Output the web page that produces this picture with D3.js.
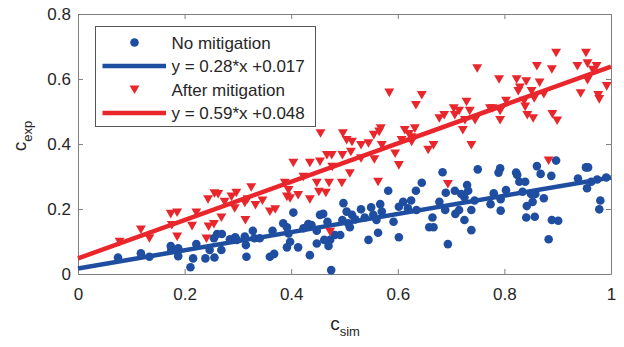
<!DOCTYPE html>
<html>
  <head>
    <title>c_exp vs c_sim</title>
    <script src="https://cdn.jsdelivr.net/npm/d3@7"></script>
    <style>
      body { margin: 0; background: #ffffff; }
      text { font-family: "Liberation Sans", Arial, sans-serif; fill: #262626; }
    </style>
  </head>
  <body>
    <svg width="624" height="347" id="mainsvg"></svg>
    <script>
      // scatter points: [c_sim, c_exp]
      const noMitigation = [
        [0.075,0.051],[0.118,0.064],[0.134,0.053],[0.174,0.086],[0.175,0.074],[0.188,0.079],[0.188,0.055],
        [0.211,0.021],[0.216,0.048],[0.222,0.092],[0.239,0.048],[0.247,0.074],[0.256,0.051],[0.255,0.110],
        [0.261,0.123],[0.270,0.123],[0.269,0.074],[0.285,0.107],[0.295,0.113],[0.298,0.105],[0.316,0.053],
        [0.315,0.089],[0.313,0.115],[0.328,0.133],[0.331,0.110],
        [0.341,0.110],[0.360,0.053],[0.368,0.062],[0.365,0.133],[0.385,0.156],[0.392,0.144],[0.395,0.125],
        [0.398,0.099],[0.392,0.082],[0.404,0.189],[0.413,0.082],[0.423,0.141],[0.432,0.154],[0.435,0.058],
        [0.438,0.151],[0.448,0.094],[0.448,0.133],[0.454,0.182],[0.460,0.185],[0.462,0.105],[0.468,0.161],
        [0.470,0.086],[0.473,0.105],[0.475,0.012],[0.482,0.120],[0.492,0.120],[0.496,0.166],[0.498,0.218],
        [0.504,0.192],[0.507,0.156],[0.510,0.144],[0.514,0.182],[0.520,0.168],[0.531,0.199],[0.538,0.174],
        [0.545,0.105],[0.550,0.205],[0.554,0.182],[0.560,0.166],[0.563,0.127],[0.567,0.215],[0.570,0.192],
        [0.582,0.256],[0.592,0.161],[0.602,0.113],[0.602,0.207],[0.610,0.222],[0.619,0.202],[0.625,0.226],
        [0.634,0.256],[0.635,0.197],[0.645,0.281],[0.659,0.144],[0.665,0.174],
        [0.667,0.144],[0.678,0.222],[0.684,0.313],[0.689,0.197],[0.690,0.250],[0.694,0.092],[0.707,0.256],
        [0.708,0.185],[0.715,0.197],[0.719,0.246],[0.725,0.236],[0.725,0.166],[0.730,0.274],[0.732,0.256],
        [0.738,0.197],[0.738,0.135],[0.744,0.226],[0.750,0.322],[0.774,0.215],[0.780,0.248],[0.789,0.312],
        [0.792,0.325],[0.793,0.230],[0.793,0.195],[0.803,0.258],[0.822,0.312],[0.824,0.305],[0.828,0.284],
        [0.834,0.253],[0.839,0.284],[0.841,0.174],[0.842,0.209],[0.850,0.246],[0.853,0.222],[0.857,0.176],
        [0.858,0.246],[0.861,0.332],[0.868,0.308],[0.874,0.233],[0.883,0.107],[0.888,0.302],[0.889,0.166],
        [0.897,0.349],[0.901,0.164],[0.938,0.294],[0.953,0.328],[0.957,0.328],[0.955,0.264],[0.963,0.284],
        [0.974,0.291],[0.980,0.226],[0.978,0.199],[0.991,0.297]
      ];
      const afterMitigation = [
        [0.078,0.099],[0.118,0.137],[0.134,0.110],[0.174,0.185],[0.176,0.151],[0.186,0.189],[0.186,0.115],
        [0.214,0.148],[0.222,0.189],[0.244,0.230],[0.245,0.146],[0.241,0.109],[0.256,0.248],[0.255,0.154],
        [0.263,0.246],[0.269,0.174],[0.275,0.222],[0.288,0.238],[0.294,0.202],[0.297,0.250],[0.313,0.219],
        [0.314,0.166],[0.325,0.267],[0.318,0.230],[0.333,0.212],
        [0.346,0.226],[0.360,0.192],[0.370,0.199],[0.388,0.281],[0.395,0.258],[0.392,0.238],[0.398,0.233],
        [0.404,0.342],[0.413,0.243],[0.423,0.299],[0.435,0.342],[0.435,0.230],[0.448,0.281],[0.452,0.253],
        [0.454,0.346],[0.465,0.250],[0.467,0.366],[0.471,0.281],[0.476,0.366],[0.473,0.130],[0.477,0.330],
        [0.495,0.281],[0.496,0.366],[0.510,0.310],[0.512,0.376],[0.514,0.407],[0.531,0.397],[0.531,0.356],
        [0.545,0.402],[0.556,0.353],[0.563,0.284],[0.570,0.397],[0.595,0.371],[0.602,0.335],[0.626,0.407],
        [0.657,0.382],
        [0.667,0.397],[0.694,0.277],[0.738,0.397],[0.883,0.349],
        [0.455,0.433],[0.497,0.433],[0.504,0.412],[0.555,0.428],[0.565,0.438],[0.568,0.448],[0.584,0.558],
        [0.607,0.412],[0.613,0.443],[0.621,0.431],[0.626,0.421],[0.632,0.448],[0.634,0.520],[0.645,0.551],
        [0.678,0.479],[0.687,0.489],[0.705,0.510],[0.707,0.489],[0.715,0.502],[0.729,0.530],[0.722,0.443],
        [0.726,0.474],[0.735,0.502],[0.745,0.474],[0.749,0.633],[0.773,0.510],[0.778,0.510],[0.790,0.599],
        [0.792,0.502],[0.792,0.474],[0.803,0.533],[0.823,0.599],[0.826,0.563],[0.829,0.574],[0.837,0.533],
        [0.841,0.593],[0.839,0.515],[0.843,0.489],[0.854,0.479],[0.851,0.563],[0.861,0.640],[0.856,0.541],
        [0.866,0.589],[0.874,0.554],[0.889,0.630],[0.890,0.492],[0.899,0.472],[0.897,0.681],[0.937,0.640],
        [0.943,0.556],[0.953,0.681],[0.956,0.648],[0.956,0.597],[0.966,0.628],[0.973,0.640],[0.976,0.551],
        [0.978,0.538],[0.992,0.578]
      ];
      // fitted lines: [slope, intercept]
      const fitNo = [0.28, 0.017];
      const fitAfter = [0.59, 0.048];
      const xTicks = [0, 0.2, 0.4, 0.6, 0.8, 1];
      const yTicks = [0, 0.2, 0.4, 0.6, 0.8];
      const legendLabels = ["No mitigation", "y = 0.28*x +0.017", "After mitigation", "y = 0.59*x +0.048"];

      const blue = "#1f4ea1";
      const red = "#e8262b";

      const svg = d3.select("#mainsvg");
      const margin = { top: 14, right: 13, bottom: 73, left: 78 };
      const innerWidth = 624 - margin.left - margin.right;
      const innerHeight = 347 - margin.top - margin.bottom;
      const g = svg.append("g").attr("transform", `translate(${margin.left}, ${margin.top})`);

      const xScale = d3.scaleLinear().domain([0, 1]).range([0, innerWidth]);
      const yScale = d3.scaleLinear().domain([0, 0.8]).range([innerHeight, 0]);
      const fmt = (d) => String(d);

      // axes, MATLAB style box with inward ticks
      const styleAxis = (sel) => {
        sel.selectAll("path").attr("stroke", "#808080");
        sel.selectAll("line").attr("stroke", "#808080");
        sel.selectAll("text").attr("font-size", 17).attr("fill", "#262626")
          .attr("font-family", "Liberation Sans, Arial, sans-serif");
      };
      g.append("g").attr("transform", `translate(0, ${innerHeight})`)
        .call(d3.axisBottom(xScale).tickValues(xTicks).tickFormat(fmt).tickSizeInner(-5).tickSizeOuter(0).tickPadding(14))
        .call(styleAxis);
      g.append("g")
        .call(d3.axisLeft(yScale).tickValues(yTicks).tickFormat(fmt).tickSizeInner(-5).tickSizeOuter(0).tickPadding(7))
        .call(styleAxis);
      g.append("g")
        .call(d3.axisTop(xScale).tickValues(xTicks).tickFormat("").tickSizeInner(-5).tickSizeOuter(0))
        .call(styleAxis);
      g.append("g").attr("transform", `translate(${innerWidth}, 0)`)
        .call(d3.axisRight(yScale).tickValues(yTicks).tickFormat("").tickSizeInner(-5).tickSizeOuter(0))
        .call(styleAxis);

      const fitLine = (fit) => d3.line()
        .x((d) => xScale(d))
        .y((d) => yScale(fit[0] * d + fit[1]));
      const triangle = (s) => `M${-s * 0.55},${-s * 0.45}L${s * 0.55},${-s * 0.45}L0,${s * 0.5}Z`;

      // no mitigation
      g.append("g").selectAll("circle").data(noMitigation).join("circle")
        .attr("cx", (d) => xScale(d[0]))
        .attr("cy", (d) => yScale(d[1]))
        .attr("r", 4.3)
        .attr("fill", blue);
      g.append("path").datum([0, 1])
        .attr("d", fitLine(fitNo))
        .attr("stroke", blue).attr("stroke-width", 4.5).attr("fill", "none");

      // after mitigation
      g.append("g").selectAll("path").data(afterMitigation).join("path")
        .attr("transform", (d) => `translate(${xScale(d[0])}, ${yScale(d[1])})`)
        .attr("d", triangle(9))
        .attr("fill", red);
      g.append("path").datum([0, 1])
        .attr("d", fitLine(fitAfter))
        .attr("stroke", red).attr("stroke-width", 4.5).attr("fill", "none");

      // legend
      const legend = svg.append("g").attr("transform", "translate(95.5, 26.5)");
      legend.append("rect").attr("width", 220).attr("height", 100)
        .attr("fill", "#ffffff").attr("stroke", "#555555").attr("stroke-width", 1);
      const rowsY = [16, 39.5, 63, 86.5];
      legendLabels.forEach((label, i) => {
        const y = rowsY[i];
        const color = i < 2 ? blue : red;
        if (i === 0) {
          legend.append("circle").attr("cx", 39).attr("cy", y).attr("r", 4.3).attr("fill", color);
        } else if (i === 2) {
          legend.append("path").attr("transform", `translate(39, ${y})`).attr("d", triangle(9)).attr("fill", color);
        } else {
          legend.append("line").attr("x1", 7).attr("x2", 70.5).attr("y1", y).attr("y2", y)
            .attr("stroke", color).attr("stroke-width", 4.5);
        }
        legend.append("text").attr("x", 76).attr("y", y).attr("dy", "0.36em")
          .attr("font-size", 17).text(label);
      });

      // axis titles
      const xt = svg.append("text").attr("x", 345).attr("y", 330).attr("text-anchor", "middle").attr("font-size", 19);
      xt.append("tspan").text("c");
      xt.append("tspan").attr("dy", 6).attr("font-size", 13).text("sim");
      const yt = svg.append("text").attr("transform", "translate(26, 136) rotate(-90)")
        .attr("text-anchor", "middle").attr("font-size", 19);
      yt.append("tspan").text("c");
      yt.append("tspan").attr("dy", 6).attr("font-size", 13).text("exp");
    </script>
  </body>
</html>
